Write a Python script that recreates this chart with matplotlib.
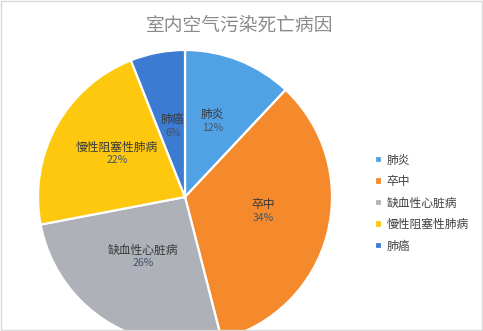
import matplotlib.pyplot as plt
from matplotlib.patches import Rectangle
import numpy as np

plt.rcParams['font.family'] = ['Noto Sans CJK SC', 'DejaVu Sans']

title = '室内空气污染死亡病因'
names = ['肺炎', '卒中', '缺血性心脏病', '慢性阻塞性肺病', '肺癌']
shares = [12, 34, 26, 22, 6]
colors = ['#50A2E4', '#F48A2C', '#AEB1B7', '#FDC80D', '#3C7BD2']
label_r = [0.51, 0.55, 0.53, 0.53, 0.45]

fig = plt.figure(figsize=(4.83, 3.31), dpi=100)
W, H = 483, 331
cx, cy, r = 185, 197, 147
ax = fig.add_axes([(cx - r) / W, (H - cy - r) / H, 2 * r / W, 2 * r / H])
wedges, _ = ax.pie(shares, colors=colors, startangle=90, counterclock=False,
                   radius=1, wedgeprops=dict(edgecolor='white', linewidth=1.6))
ax.set_xlim(-1, 1)
ax.set_ylim(-1, 1)
ax.set_aspect('auto')

for w, name, val, lr in zip(wedges, names, shares, label_r):
    a = np.deg2rad((w.theta1 + w.theta2) / 2)
    x, y = lr * np.cos(a), lr * np.sin(a)
    ax.text(x, y + 0.04, name, ha='center', va='bottom', fontsize=8.5, color='#3a3a3a')
    ax.text(x, y + 0.03, f'{val}%', ha='center', va='top', fontsize=7.5, color='#44546a')

fig.text(0.497, 0.925, title, ha='center', va='center', fontsize=13.5,
         color='#8a8a8a', fontweight='light')

fig.legend(wedges, names, loc='upper left', bbox_to_anchor=(364 / W, 1 - 143 / H),
           frameon=False, fontsize=8.5, handlelength=0.6, handleheight=0.6,
           handletextpad=0.4, labelspacing=0.72, labelcolor='#404040')

fig.add_artist(Rectangle((0.002, 0.003), 0.996, 0.994, transform=fig.transFigure,
                         fill=False, edgecolor='#d9d9d9', linewidth=1))

fig.savefig('out.png', dpi=100)
